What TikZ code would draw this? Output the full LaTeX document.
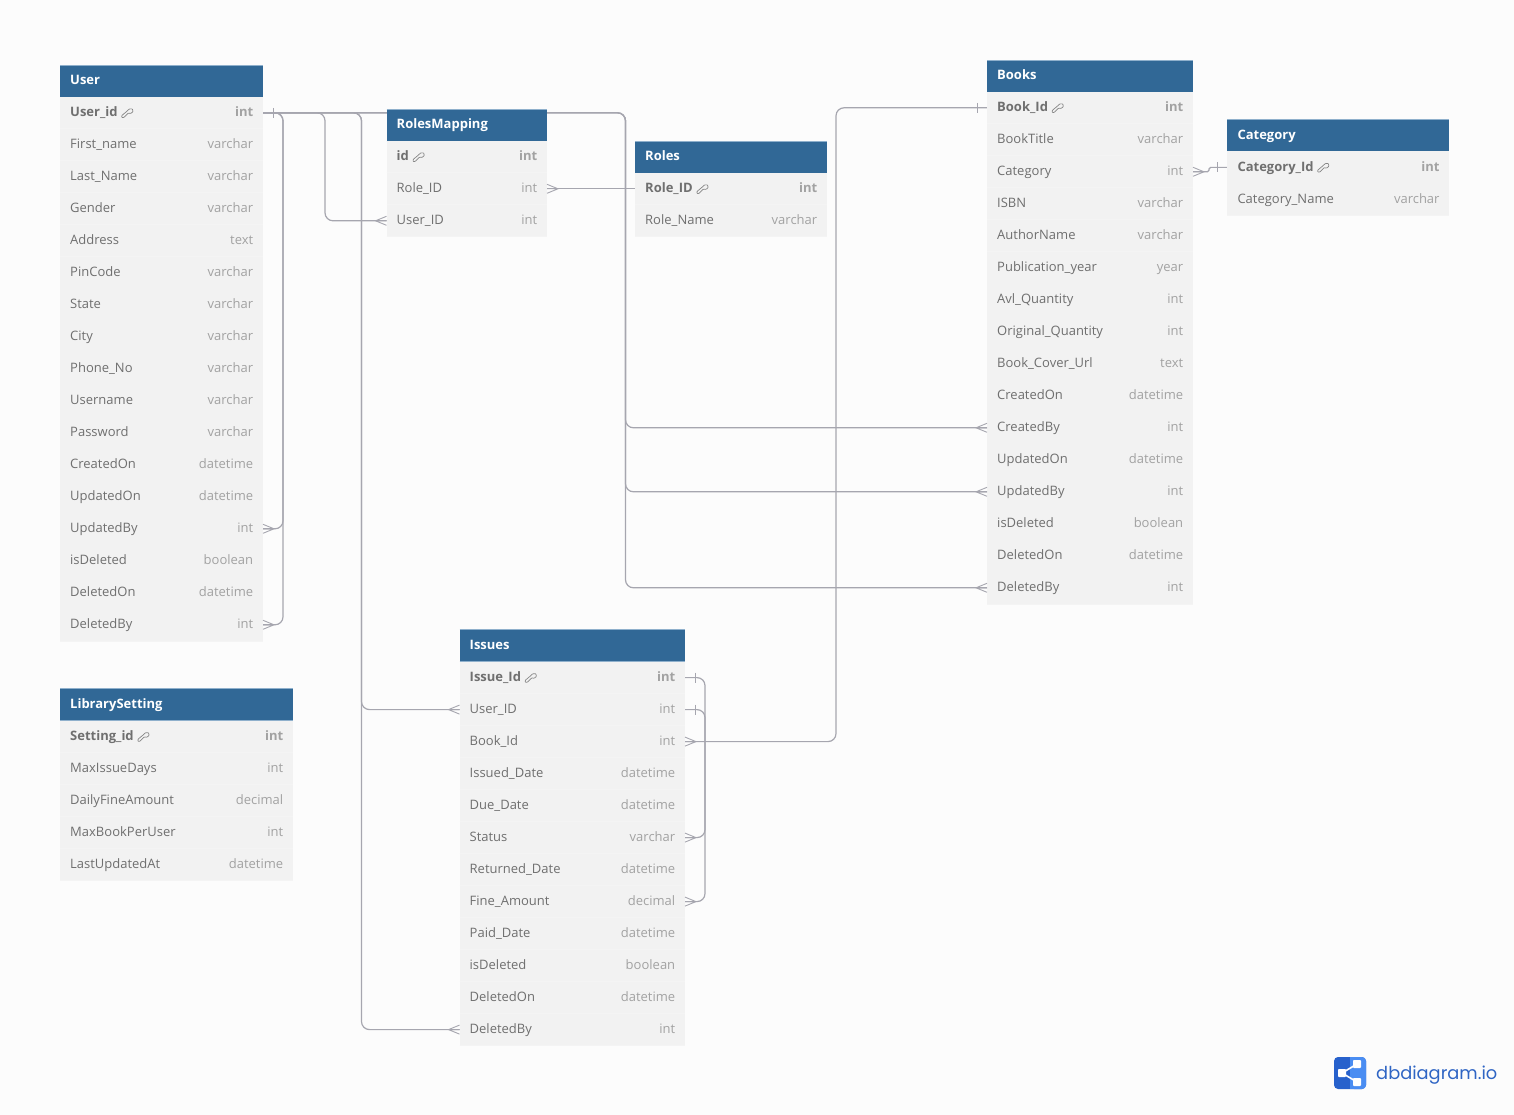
\documentclass[tikz,border=0pt]{standalone}
\usepackage{fontspec}
\setmainfont{Open Sans}
\newfontfamily\logofont{Poppins}
\usetikzlibrary{calc}
\definecolor{pagebg}{HTML}{FCFCFC}
\definecolor{hdrblue}{HTML}{316896}
\definecolor{hdredge}{HTML}{8FB0CC}
\definecolor{rowbg}{HTML}{F2F2F2}
\definecolor{rowsep}{HTML}{F4F4F4}
\definecolor{nametxt}{HTML}{6F6F6F}
\definecolor{typetxt}{HTML}{A2A2A2}
\definecolor{linkc}{HTML}{A6A6AF}
\definecolor{logod}{HTML}{2761CC}
\definecolor{logol}{HTML}{4A8DF2}
\definecolor{logot}{HTML}{2F65C4}
\pgfdeclarelayer{under}
\pgfsetlayers{under,main}
\tikzset{
  x=1pt,y=-1pt,
  hdrcell/.style={anchor=north west,fill=hdrblue,minimum height=32pt,inner sep=0pt,outer sep=0pt},
  hdrtext/.style={anchor=base west,inner sep=0pt,text=white,font=\fontsize{13}{15}\selectfont\bfseries},
  rowcell/.style={anchor=north west,fill=rowbg,minimum height=32pt,inner sep=0pt,outer sep=0pt},
  nameplain/.style={anchor=base west,inner sep=0pt,text=nametxt,font=\fontsize{13}{15}\selectfont},
  typeplain/.style={anchor=base east,inner sep=0pt,text=typetxt,font=\fontsize{13}{15}\selectfont},
  namebold/.style={nameplain,font=\fontsize{13}{15}\selectfont\bfseries},
  typebold/.style={typeplain,font=\fontsize{13}{15}\selectfont\bfseries},
  conn/.style={draw=linkc,line width=1.2pt,rounded corners=8pt},
  crowf/.pic={\draw[draw=linkc,line width=.9pt] (0,-4.5) -- (11,0) -- (0,4.5) (0,0) -- (11,0);},
  tickm/.pic={\draw[draw=linkc,line width=.9pt] (10,-5) -- (10,5);},
  keyicon/.pic={\draw[draw=nametxt!85,line width=.7pt,rounded corners=.6pt] (8.6,-7.6) -- (11.6,-7.6) -- (12.2,-4.8) -- (9.8,-3) -- (7.4,-3.4) -- (3,1) -- (1,1) -- (1,-1) -- (5.8,-5) -- cycle;},
}
\newcommand{\dbtable}[6]{%
  \node[hdrcell,minimum width=#4pt] (#1-h) at (#2,#3) {};
  \draw[hdredge,line width=.5pt] (#1-h.north west) -- (#1-h.north east) (#1-h.south west) -- (#1-h.south east);
  \node[hdrtext] (#1-ht) at ([xshift=10pt,yshift=-3.7pt]#1-h.west) {#5};
  \foreach \rowname/\rowtype [count=\rowi from 1] in {#6} {
    \ifnum\rowi=1
      \node[rowcell,minimum width=#4pt] (#1-1) at (#2,#3+32) {};
      \node[namebold] (#1-1-n) at ([xshift=10pt,yshift=-3.7pt]#1-1.west) {\rowname};
      \node[typebold] (#1-1-t) at ([xshift=-9.6pt,yshift=-3.7pt]#1-1.east) {\rowtype};
      \pic at ([xshift=3pt]#1-1-n.base east) {keyicon};
    \else
      \node[rowcell,minimum width=#4pt] (#1-\rowi) at (#2,#3+32+32*\rowi-32) {};
      \node[nameplain] (#1-\rowi-n) at ([xshift=10pt,yshift=-3.7pt]#1-\rowi.west) {\rowname};
      \node[typeplain] (#1-\rowi-t) at ([xshift=-9.6pt,yshift=-3.7pt]#1-\rowi.east) {\rowtype};
    \fi
    \draw[rowsep,line width=.6pt] (#1-\rowi.south west) -- (#1-\rowi.south east);
  }
}
\begin{document}
\begin{tikzpicture}
\useasboundingbox (0,0) rectangle (1514,1115);
\begin{pgfonlayer}{under}
\fill[pagebg] (0,0) rectangle (1514,1115);
\end{pgfonlayer}

\dbtable{U}{60}{64.8}{203}{User}{User\_id/int,First\_name/varchar,Last\_Name/varchar,Gender/varchar,Address/text,PinCode/varchar,State/varchar,City/varchar,Phone\_No/varchar,Username/varchar,Password/varchar,CreatedOn/datetime,UpdatedOn/datetime,UpdatedBy/int,isDeleted/boolean,DeletedOn/datetime,DeletedBy/int}
\dbtable{RM}{386.5}{108.8}{160.5}{RolesMapping}{id/int,Role\_ID/int,User\_ID/int}
\dbtable{R}{635}{140.8}{192}{Roles}{Role\_ID/int,Role\_Name/varchar}
\dbtable{B}{987}{59.8}{206}{Books}{Book\_Id/int,BookTitle/varchar,Category/int,ISBN/varchar,AuthorName/varchar,Publication\_year/year,Avl\_Quantity/int,Original\_Quantity/int,Book\_Cover\_Url/text,CreatedOn/datetime,CreatedBy/int,UpdatedOn/datetime,UpdatedBy/int,isDeleted/boolean,DeletedOn/datetime,DeletedBy/int}
\dbtable{C}{1227.3}{119.4}{222}{Category}{Category\_Id/int,Category\_Name/varchar}
\dbtable{L}{60}{688.6}{233}{LibrarySetting}{Setting\_id/int,MaxIssueDays/int,DailyFineAmount/decimal,MaxBookPerUser/int,LastUpdatedAt/datetime}
\dbtable{I}{459.5}{629.6}{225.5}{Issues}{Issue\_Id/int,User\_ID/int,Book\_Id/int,Issued\_Date/datetime,Due\_Date/datetime,Status/varchar,Returned\_Date/datetime,Fine\_Amount/decimal,Paid\_Date/datetime,isDeleted/boolean,DeletedOn/datetime,DeletedBy/int}

\coordinate (chA) at (283,0);
\coordinate (chB) at (325,0);
\coordinate (chC) at (361.5,0);
\coordinate (chD) at (625.5,0);
\coordinate (chE) at (705,0);
\coordinate (chF) at (836,0);
\coordinate (chG) at (1209,0);

\begin{pgfonlayer}{under}
\draw[conn] (U-1.east) -| (chA |- U-14.east) -- (U-14.east);
\draw[conn] (U-1.east) -| (chA |- U-17.east) -- (U-17.east);
\draw[conn] (U-1.east) -| (chB |- RM-3.west) -- (RM-3.west);
\draw[conn] (U-1.east) -| (chC |- I-2.west) -- (I-2.west);
\draw[conn] (U-1.east) -| (chC |- I-12.west) -- (I-12.west);
\draw[conn] (U-1.east) -| (chD |- B-11.west) -- (B-11.west);
\draw[conn] (U-1.east) -| (chD |- B-13.west) -- (B-13.west);
\draw[conn] (U-1.east) -| (chD |- B-16.west) -- (B-16.west);
\draw[conn] (RM-2.east) -- (R-1.west);
\draw[conn] (I-3.east) -| (chF |- B-1.west) -- (B-1.west);
\draw[conn] (I-1.east) -| (chE |- I-8.east) -- (I-8.east);
\draw[conn] (I-2.east) -| (chE |- I-6.east) -- (I-6.east);
\draw[conn,rounded corners=1.5pt] (B-3.east) -| (chG |- C-1.west) -- (C-1.west);
\end{pgfonlayer}

\pic at (U-1.east) {tickm};
\pic at (U-14.east) {crowf};
\pic at (U-17.east) {crowf};
\pic[xscale=-1] at (RM-3.west) {crowf};
\pic at (RM-2.east) {crowf};
\pic[xscale=-1] at (I-2.west) {crowf};
\pic[xscale=-1] at (I-12.west) {crowf};
\pic[xscale=-1] at (B-11.west) {crowf};
\pic[xscale=-1] at (B-13.west) {crowf};
\pic[xscale=-1] at (B-16.west) {crowf};
\pic at (I-1.east) {tickm};
\pic at (I-2.east) {tickm};
\pic at (I-3.east) {crowf};
\pic at (I-6.east) {crowf};
\pic at (I-8.east) {crowf};
\pic[xscale=-1] at (B-1.west) {tickm};
\pic at (B-3.east) {crowf};
\pic[xscale=-1] at (C-1.west) {tickm};

% logo
\fill[logod,rounded corners=4pt] (1334,1057) rectangle (1366,1089);
\fill[logol,rounded corners=4pt] (1350,1057) rectangle (1366,1089);
\fill[logol] (1350,1057) rectangle (1358,1089);
\draw[white,line width=1.6pt] (1342,1073) -- (1357,1064) (1342,1073) -- (1357,1082);
\fill[white,rounded corners=.8pt] (1338,1069) rectangle (1346,1077);
\fill[white,rounded corners=.8pt] (1353,1060) rectangle (1361,1068);
\fill[white,rounded corners=.8pt] (1353,1078) rectangle (1361,1086);
\node[anchor=base west,inner sep=0pt,text=logot,font=\logofont\fontsize{17.8}{22}\selectfont] (logotxt) at (1376,1079.5) {dbdiagram.io};
\end{tikzpicture}
\end{document}
